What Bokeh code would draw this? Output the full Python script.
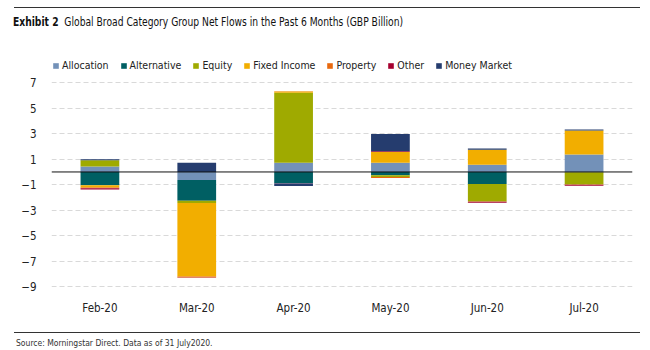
import numpy as np
from bokeh.plotting import figure
from bokeh.layouts import column
from bokeh.models import (ColumnDataSource, FactorRange, Range1d, FixedTicker, Legend,
                          LegendItem, Span, Div)
from bokeh.embed import file_html
from bokeh.resources import INLINE

categories = ["Feb-20", "Mar-20", "Apr-20", "May-20", "Jun-20", "Jul-20"]
series_names = ["Allocation", "Alternative", "Equity", "Fixed Income", "Property", "Other", "Money Market"]
allocation = [0.42, -0.63, 0.73, 0.73, 0.57, 1.38]
alternative = [-1.04, -1.64, -0.89, -0.26, -0.94, -0.03]
equity = [0.50, -0.16, 5.49, -0.13, -1.38, -0.96]
fixed_income = [-0.18, -5.78, 0.10, 0.83, 1.17, 1.88]
property_ = [-0.05, -0.08, 0.02, -0.08, -0.02, -0.02]
other = [-0.10, -0.01, -0.02, 0.07, -0.08, -0.08]
money_market = [0.08, 0.73, -0.20, 1.35, 0.10, 0.08]
y_ticks = [-9, -7, -5, -3, -1, 1, 3, 5, 7]
title_bold = "Exhibit 2"
title_text = "Global Broad Category Group Net Flows in the Past 6 Months (GBP Billion)"
source_text = "Source: Morningstar Direct. Data as of 31 July2020."

colors = ["#7391B8", "#005F63", "#9FAA00", "#F2AE00", "#E8690F", "#A5002F", "#253C6E"]
series = [allocation, alternative, equity, fixed_income, property_, other, money_market]

FONT = "DejaVu Sans Condensed"
W = 650
TOP_H, MAIN_H, BOT_H = 40, 282, 28

top_div = Div(width=W, height=TOP_H, margin=0, text=(
    '<div style="position:relative;width:650px;height:40px;">'
    '<div style="position:absolute;left:14px;top:7px;width:626px;height:0;border-top:1.5px solid #333;"></div>'
    f'<div style="position:absolute;left:13px;top:14px;font-family:\'{FONT}\';font-size:12px;'
    'transform:scaleX(0.85);transform-origin:left center;'
    f'line-height:16px;color:#111;white-space:nowrap;"><b>{title_bold}</b>&nbsp;&nbsp;{title_text}</div>'
    '</div>'))

bot_div = Div(width=W, height=BOT_H, margin=0, text=(
    '<div style="position:relative;width:650px;height:28px;">'
    '<div style="position:absolute;left:14px;top:10px;width:626px;height:0;border-top:1.5px solid #333;"></div>'
    f'<div style="position:absolute;left:16px;top:15px;font-family:\'{FONT}\';font-size:8.5px;'
    f'line-height:12px;color:#333;white-space:nowrap;">{source_text}</div>'
    '</div>'))

# ---- main chart ----
p = figure(width=W, height=MAIN_H, x_range=FactorRange(*categories),
           y_range=Range1d(-9.31, 9.54), output_backend="svg", toolbar_location=None,
           title=None, min_border_left=51, min_border_right=18, min_border_top=10, min_border_bottom=32)
p.outline_line_color = None

pos_base = np.zeros(len(categories))
neg_base = np.zeros(len(categories))
items = []
for name, vals, col in zip(series_names, series, colors):
    v = np.array(vals, dtype=float)
    bottom = np.where(v >= 0, pos_base, neg_base)
    top_v = bottom + v
    pos_base = np.where(v >= 0, top_v, pos_base)
    neg_base = np.where(v < 0, top_v, neg_base)
    src = ColumnDataSource(dict(x=categories, top=top_v, bottom=bottom))
    r = p.vbar(x="x", top="top", bottom="bottom", width=0.4, source=src,
               fill_color=col, line_color=None)
    items.append(LegendItem(label=name, renderers=[r]))

p.add_layout(Span(location=0, dimension="width", line_color="#111111", line_width=1))

p.xgrid.grid_line_color = None
p.ygrid.grid_line_color = "#D9D9D9"
p.ygrid.grid_line_dash = "5 3"
p.ygrid.grid_line_width = 1
p.yaxis.ticker = FixedTicker(ticks=y_ticks)

for ax in (p.xaxis[0], p.yaxis[0]):
    ax.axis_line_color = None
    ax.major_tick_line_color = None
    ax.minor_tick_line_color = None
    ax.major_label_text_font = FONT
    ax.major_label_text_font_size = "11.5px"
    ax.major_label_text_color = "#222222"
p.yaxis.major_label_standoff = 9
p.xaxis.major_label_standoff = 4

legend = Legend(items=items, orientation="horizontal", location=(1, 219),
                label_text_font=FONT, label_text_font_size="10.5px", label_text_color="#222222",
                glyph_width=7, glyph_height=7, label_standoff=3, spacing=11,
                padding=0, margin=0, border_line_color=None, background_fill_alpha=0,
                label_height=12)
p.add_layout(legend, "center")

layout = column(top_div, p, bot_div, spacing=0)
open("out.html", "w").write(file_html(layout, INLINE))
